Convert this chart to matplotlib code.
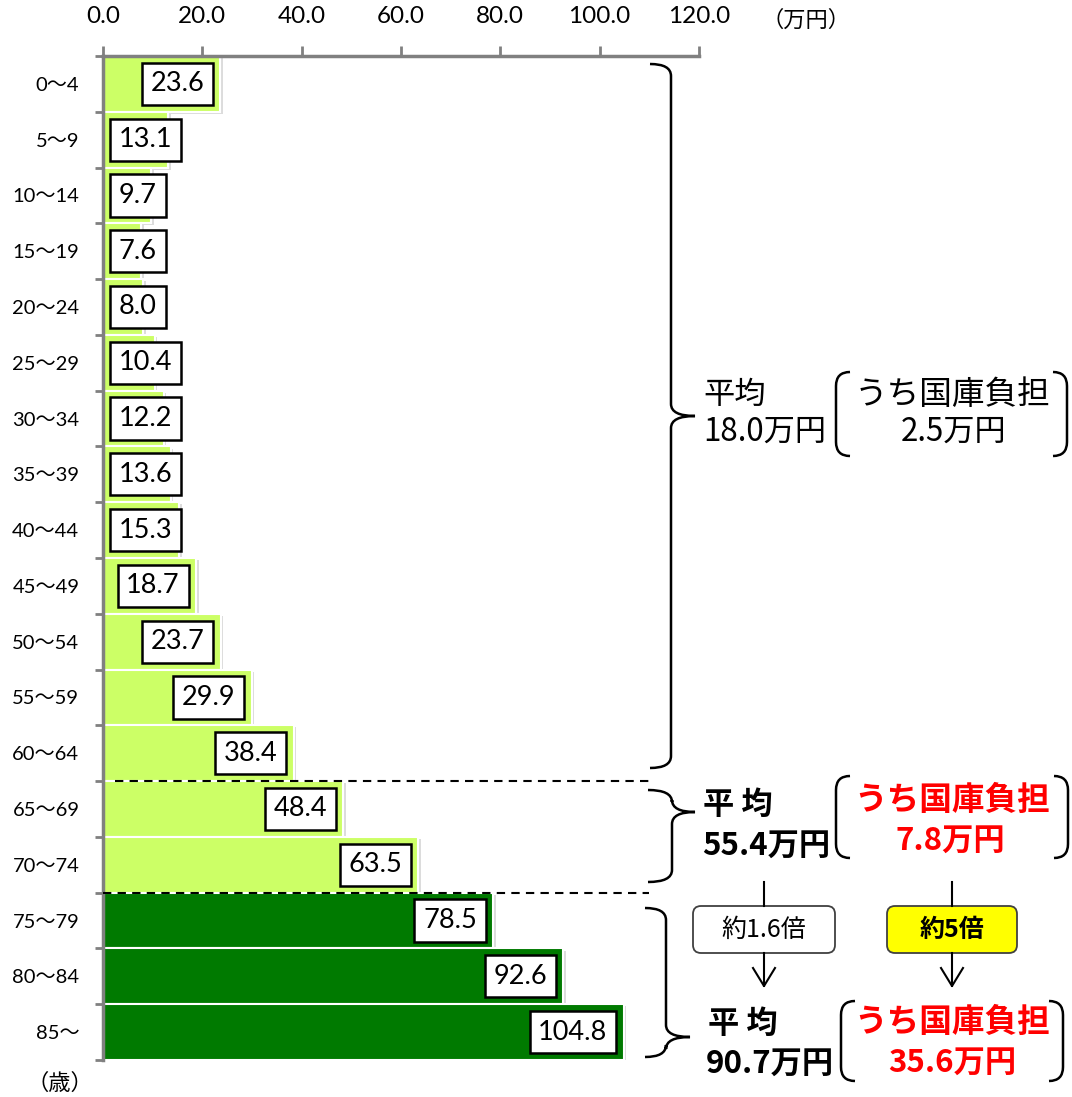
import matplotlib
matplotlib.use("Agg")
import matplotlib.pyplot as plt
import matplotlib.patheffects as pe
from matplotlib.path import Path
from matplotlib.patches import PathPatch, FancyBboxPatch

# age groups and per-capita medical cost (万円)
ages = ['0～4', '5～9', '10～14', '15～19', '20～24', '25～29', '30～34', '35～39',
        '40～44', '45～49', '50～54', '55～59', '60～64', '65～69', '70～74',
        '75～79', '80～84', '85～']
costs = [23.6, 13.1, 9.7, 7.6, 8.0, 10.4, 12.2, 13.6, 15.3, 18.7, 23.7, 29.9,
         38.4, 48.4, 63.5, 78.5, 92.6, 104.8]
n_light = 15  # under 75 drawn light green

xticks = [0, 20, 40, 60, 80, 100, 120]

LAT = ['Lato', 'Noto Sans CJK JP']
JP = ['Noto Sans CJK JP', 'DejaVu Sans']

W, H = 1072, 1097
fig = plt.figure(figsize=(W / 100, H / 100), dpi=100)
ax = fig.add_axes([103 / W, 1 - 1060 / H, 596 / W, 1004 / H])

ypos = list(range(len(ages)))
colors = ['#CCFF66'] * n_light + ['#007A00'] * (len(ages) - n_light)
bars = ax.barh(ypos, costs, height=1.0, color=colors, edgecolor='white', linewidth=1.5, zorder=2)
for b in bars:
    b.set_path_effects([pe.SimplePatchShadow(offset=(2, -1.5), shadow_rgbFace='#bbbbbb', alpha=0.5), pe.Normal()])

ax.set_xlim(0, 120)
ax.set_ylim(len(ages) - 0.5, -0.5)

# axis at the top, gray
ax.xaxis.tick_top()
ax.set_xticks(xticks)
ax.set_xticklabels(['%.1f' % v for v in xticks], family=LAT, fontsize=17.5)
ax.tick_params(axis='x', length=7, width=2, color='#808080', pad=14)
ax.set_yticks(ypos)
ax.set_yticklabels(ages, family=LAT, fontsize=14.5)
ax.tick_params(axis='y', length=0, pad=17)
ax.set_yticks([i - 0.5 for i in range(len(ages) + 1)], minor=True)
ax.tick_params(axis='y', which='minor', length=6, width=2, color='#808080')
for s in ['bottom', 'right']:
    ax.spines[s].set_visible(False)
for s in ['top', 'left']:
    ax.spines[s].set_color('#808080')
    ax.spines[s].set_linewidth(2.5)

# value labels in boxes at the bar ends (pushed to the axis on short bars)
for y, v in zip(ypos, costs):
    if v < 17:
        xy, off, ha = (0, y), 11.5, 'left'
    else:
        xy, off, ha = (v, y), -11.5, 'right'
    ax.annotate('%.1f' % v, xy=xy, xytext=(off, 0), textcoords='offset points',
                ha=ha, va='center', family=LAT, fontsize=19.5, zorder=4,
                bbox=dict(boxstyle='square,pad=0.32', fc='white', ec='black', lw=1.8))

# group separators
ax.plot([2.5, 110], [12.5, 12.5], ls=(0, (4, 3)), color='black', lw=1.5, clip_on=False, zorder=3)
ax.plot([0, 110], [14.5, 14.5], ls=(0, (4, 3)), color='black', lw=1.5, clip_on=False, zorder=3)

# overlay in pixel coordinates for the side notes
ov = fig.add_axes([0, 0, 1, 1], facecolor='none')
ov.set_xlim(0, W)
ov.set_ylim(H, 0)
ov.axis('off')


def brace(x0, xm, xt, yt, yp, yb, r=12):
    verts = [(x0, yt), (xm, yt), (xm, yt + r), (xm, yp - r), (xm, yp), (xt, yp),
             (xm, yp), (xm, yp + r), (xm, yb - r), (xm, yb), (x0, yb)]
    codes = [Path.MOVETO, Path.CURVE3, Path.CURVE3, Path.LINETO, Path.CURVE3, Path.CURVE3,
             Path.CURVE3, Path.CURVE3, Path.LINETO, Path.CURVE3, Path.CURVE3]
    ov.add_patch(PathPatch(Path(verts, codes), fill=False, lw=1.8, ec='black'))


def paren(xl, xr, yt, yb, d=14, r=14):
    for x, s in [(xl, 1), (xr, -1)]:
        verts = [(x + s * d, yt), (x, yt), (x, yt + r), (x, yb - r), (x, yb), (x + s * d, yb)]
        codes = [Path.MOVETO, Path.CURVE3, Path.CURVE3, Path.LINETO, Path.CURVE3, Path.CURVE3]
        ov.add_patch(PathPatch(Path(verts, codes), fill=False, lw=1.8, ec='black'))


def note(x, y, s, color='black', weight='normal', ha='left', size=22.5):
    ov.text(x, y, s, ha=ha, va='center', family=JP, fontsize=size, color=color, fontweight=weight)


brace(650, 671, 695, 64, 416, 768)
brace(648, 672, 695, 790, 812, 882)
brace(645, 666, 690, 908, 1037, 1057)

note(703, 395, '平均')
note(703, 432, '18.0万円')
paren(836, 1067, 372, 456)
note(952, 395, 'うち国庫負担', ha='center', size=23.5)
note(954, 432, '2.5万円', ha='center')

note(703, 805, '平 均', weight='bold')
note(702, 846, '55.4万円', weight='bold')
paren(836, 1068, 776, 858)
note(952, 800, 'うち国庫負担', color='#FF0000', weight='bold', ha='center', size=23.5)
note(950, 841, '7.8万円', color='#FF0000', weight='bold', ha='center')

note(708, 1024, '平 均', weight='bold')
note(706, 1064, '90.7万円', weight='bold')
paren(841, 1063, 1001, 1081)
note(952, 1022, 'うち国庫負担', color='#FF0000', weight='bold', ha='center', size=23.5)
note(952, 1063, '35.6万円', color='#FF0000', weight='bold', ha='center')

# ratio arrows
for xc, x0, x1, label, fc, wt in [(764, 693, 835, '約1.6倍', 'white', 'normal'),
                                    (952, 887, 1017, '約5倍', '#FFFF00', 'bold')]:
    ov.plot([xc, xc], [882, 906], color='black', lw=1.5)
    ov.add_patch(FancyBboxPatch((x0, 906), x1 - x0, 47, boxstyle='round,pad=0,rounding_size=8',
                                fc=fc, ec='#404040', lw=1.3))
    ov.text(xc, 930, label, ha='center', va='center', family=JP, fontsize=18, fontweight=wt)
    ov.plot([xc, xc], [953, 986], color='black', lw=1.5)
    ov.plot([xc - 11, xc, xc + 11], [968, 986, 968], color='black', lw=1.5)

ov.text(806, 20, '（万円）', ha='center', va='center', family=JP, fontsize=16)
ov.text(60, 1083, '（歳）', ha='center', va='center', family=JP, fontsize=16)

fig.savefig('out.png', dpi=100)
